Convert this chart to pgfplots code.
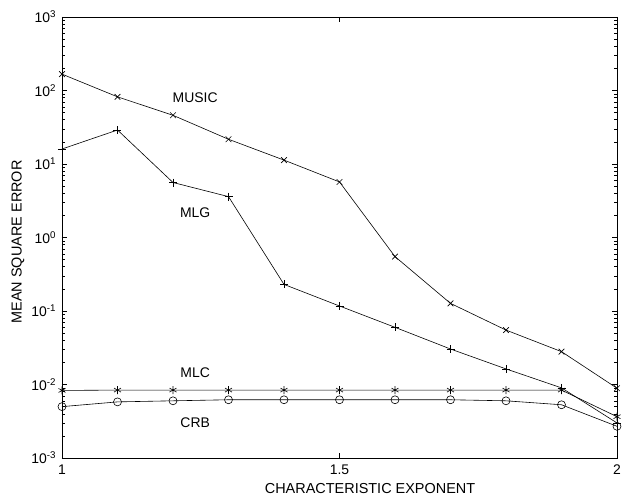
\documentclass[border=0pt]{standalone}
\usepackage{pgfplots}
\pgfplotsset{compat=1.18}
\usepackage{fontspec}
\setmainfont{Liberation Sans}
\begin{document}
\begin{tikzpicture}
\fontsize{14}{16}\selectfont
\begin{axis}[
  scale only axis,
  width=555bp, height=441bp,
  ymode=log,
  xmin=1, xmax=2, ymin=1e-3, ymax=1e3,
  xtick={1,1.5,2}, xticklabels={1,1.5,2},
  ytick={1e-3,1e-2,1e-1,1,1e1,1e2,1e3},
  yticklabels={10\textsuperscript{-3},10\textsuperscript{-2},10\textsuperscript{-1},10\textsuperscript{0},10\textsuperscript{1},10\textsuperscript{2},10\textsuperscript{3}},
  tick align=inside,
  xtick pos=both, ytick pos=both,
  minor y tick num=8,
  major tick length=5bp, minor tick length=3bp,
  tick style={black, line width=0.5pt},
  axis line style={line width=0.7pt},
  every tick label/.style={font=\fontsize{14}{16}\selectfont},
  xticklabel style={yshift=-2bp},
  yticklabel style={xshift=-1bp},
  xlabel={CHARACTERISTIC EXPONENT},
  ylabel={MEAN SQUARE ERROR},
  label style={font=\fontsize{14.5}{16}\selectfont},
  xlabel style={at={(axis description cs:0.555,-0.0685)}, anchor=center},
  ylabel style={at={(axis description cs:-0.0793,0.49)}, anchor=center},
  every axis plot/.append style={black, line width=0.6pt, mark size=4bp, mark options={solid, line width=0.6pt}},
]
\addplot[mark=x] coordinates {
(1.0,167) (1.1,82) (1.2,46) (1.3,21.7) (1.4,11.3) (1.5,5.7)
(1.6,0.55) (1.7,0.127) (1.8,0.055) (1.9,0.028) (2.0,0.0089)};
\addplot[mark=+] coordinates {
(1.0,16) (1.1,29) (1.2,5.6) (1.3,3.6) (1.4,0.23) (1.5,0.117)
(1.6,0.06) (1.7,0.0304) (1.8,0.0163) (1.9,0.009) (2.0,0.003)};
\addplot[mark=asterisk] coordinates {
(1.0,0.0083) (1.1,0.0084) (1.2,0.0084) (1.3,0.0084) (1.4,0.0084) (1.5,0.0084)
(1.6,0.0084) (1.7,0.0084) (1.8,0.0084) (1.9,0.0084) (2.0,0.00365)};
\addplot[mark=o] coordinates {
(1.0,0.005) (1.1,0.0058) (1.2,0.006) (1.3,0.0062) (1.4,0.0062) (1.5,0.0062)
(1.6,0.0062) (1.7,0.0062) (1.8,0.006) (1.9,0.0053) (2.0,0.0027)};
\node at (axis cs:1.24,80) {MUSIC};
\node at (axis cs:1.24,2.2) {MLG};
\node at (axis cs:1.24,0.0145) {MLC};
\node at (axis cs:1.24,0.003) {CRB};
\coordinate (SW) at (rel axis cs:0,0);
\coordinate (NE) at (rel axis cs:1,1);
\end{axis}
\pgfresetboundingbox
\useasboundingbox ([xshift=-62bp,yshift=-41bp]SW) rectangle ([xshift=14bp,yshift=17bp]NE);
\end{tikzpicture}
\end{document}
